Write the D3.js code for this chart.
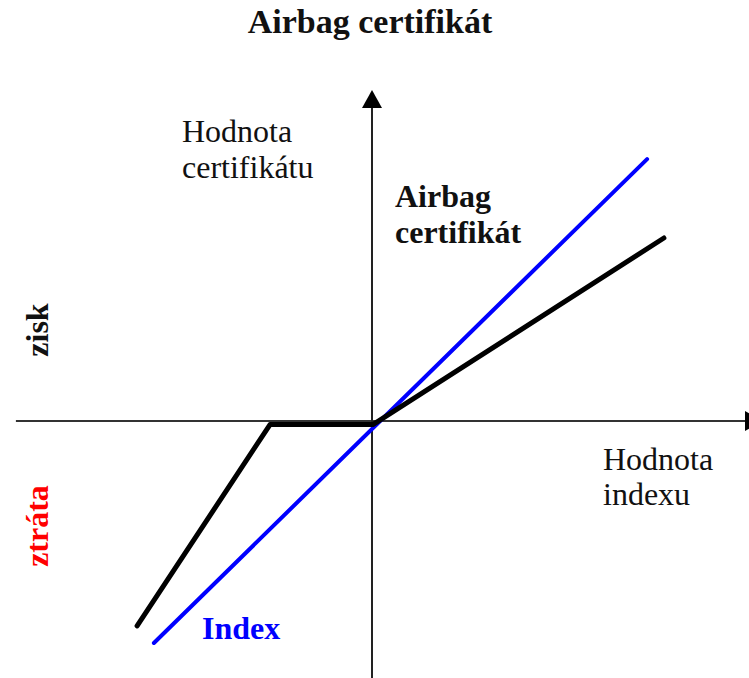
<!DOCTYPE html>
<html lang="cs">
<head>
  <meta charset="UTF-8">
  <title>Airbag certifikát</title>
  <script src="https://d3js.org/d3.v7.min.js"></script>
  <style>
    body { margin: 0; background: #fff; }
    svg { display: block; font-family: "Liberation Serif", "Times New Roman", serif; }
  </style>
</head>
<body>
  <svg width="749" height="678"></svg>
<script>
// values (index change vs. value change, arbitrary units)
var indexX = [-72.7, 91.7];
var indexY = [-74, 87.3];
var airbagX = [-78.3, -34, 0.3, 97.3];
var airbagY = [-68.3, -1.2, -1.2, 61];
var axisXExtent = [-118.7, 130];
var axisYExtent = [-86, 109.7];

var svg = d3.select("svg");

// origin sits at (372, 421), 3 px per unit
var x = d3.scaleLinear().domain([-100, 100]).range([72, 672]);
var y = d3.scaleLinear().domain([-100, 100]).range([721, 121]);

var defs = svg.append("defs");
defs.append("marker")
  .attr("id", "arrow")
  .attr("viewBox", "0 0 20 20")
  .attr("refX", 0).attr("refY", 10)
  .attr("markerWidth", 20).attr("markerHeight", 20)
  .attr("markerUnits", "userSpaceOnUse")
  .attr("orient", "auto")
  .append("path")
  .attr("d", "M0,0 L18,10 L0,20 Z")
  .attr("fill", "#000");

// axes
svg.append("line")
  .attr("x1", x(axisXExtent[0])).attr("x2", x(axisXExtent[1]) - 17)
  .attr("y1", y(0)).attr("y2", y(0))
  .attr("stroke", "#333").attr("stroke-width", 2)
  .attr("marker-end", "url(#arrow)");

svg.append("line")
  .attr("x1", x(0)).attr("x2", x(0))
  .attr("y1", y(axisYExtent[0])).attr("y2", y(axisYExtent[1]) + 16)
  .attr("stroke", "#222").attr("stroke-width", 2)
  .attr("marker-end", "url(#arrow)");

var line = d3.line()
  .x(function(d) { return x(d[0]); })
  .y(function(d) { return y(d[1]); });

// index line
svg.append("path")
  .datum(d3.zip(indexX, indexY))
  .attr("d", line)
  .attr("fill", "none")
  .attr("stroke", "#0000ff")
  .attr("stroke-width", 4)
  .attr("stroke-linecap", "round");

// airbag certificate line
svg.append("path")
  .datum(d3.zip(airbagX, airbagY))
  .attr("d", line)
  .attr("fill", "none")
  .attr("stroke", "#000")
  .attr("stroke-width", 5)
  .attr("stroke-linejoin", "round")
  .attr("stroke-linecap", "round");

// texts
svg.append("text")
  .attr("x", 370).attr("y", 33)
  .attr("text-anchor", "middle")
  .attr("font-size", 34).attr("font-weight", "bold")
  .attr("fill", "#111")
  .text("Airbag certifikát");

var t1 = svg.append("text").attr("font-size", 32).attr("fill", "#111");
t1.append("tspan").attr("x", 182).attr("y", 142).text("Hodnota");
t1.append("tspan").attr("x", 182).attr("y", 178).text("certifikátu");

var t2 = svg.append("text").attr("font-size", 32).attr("font-weight", "bold").attr("fill", "#111");
t2.append("tspan").attr("x", 395).attr("y", 207).text("Airbag");
t2.append("tspan").attr("x", 395).attr("y", 243).text("certifikát");

var t3 = svg.append("text").attr("font-size", 32).attr("fill", "#111");
t3.append("tspan").attr("x", 603).attr("y", 470).text("Hodnota");
t3.append("tspan").attr("x", 603).attr("y", 505).text("indexu");

svg.append("text")
  .attr("x", 202).attr("y", 639)
  .attr("font-size", 32).attr("font-weight", "bold")
  .attr("fill", "#0000ff")
  .text("Index");

svg.append("text")
  .attr("transform", "translate(48,330) rotate(-90)")
  .attr("text-anchor", "middle")
  .attr("font-size", 32).attr("font-weight", "bold")
  .attr("fill", "#111")
  .text("zisk");

svg.append("text")
  .attr("transform", "translate(48,526) rotate(-90)")
  .attr("text-anchor", "middle")
  .attr("font-size", 32).attr("font-weight", "bold")
  .attr("fill", "#ff0000")
  .text("ztráta");
</script>
</body>
</html>
